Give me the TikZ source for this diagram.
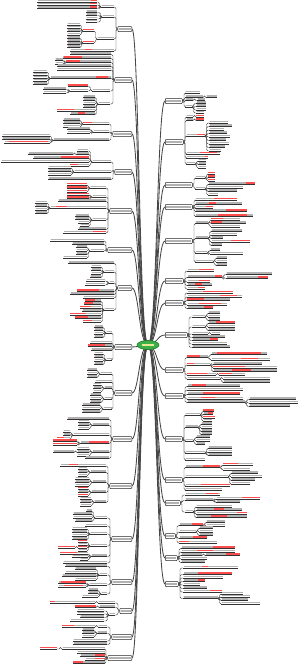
\documentclass[tikz,border=0pt]{standalone}
\usetikzlibrary{calc,shapes.geometric}
\pgfdeclarelayer{bg}
\pgfdeclarelayer{paper}
\pgfsetlayers{paper,bg,main}
\definecolor{cfill}{RGB}{60,175,70}
\definecolor{cdraw}{RGB}{30,120,40}
\definecolor{ctxt}{RGB}{235,230,150}
\tikzset{
 cn/.style={draw=black!72, line width=0.45pt, rounded corners=1.5pt},
 mainln/.style={draw=black!72, line width=0.85pt},
 lf/.style={inner sep=0pt, outer sep=0pt, minimum height=2.5pt},
 tb/.style={fill=black!30},
 rt/.style={fill=red!70},
 ul/.style={draw=black!80, line width=0.4pt},
 topbox/.style={draw=black!85, fill=white, line width=0.5pt, rounded corners=0.8pt, inner sep=0pt, minimum height=5pt},
}
\newcommand\LItem[7]{%
 \node[lf, anchor=south east, minimum width={(#4-#5)*1pt}] (#1) at (#4,#3) {};
 \coordinate (#1-o) at (#1.south west);
 \fill[tb] ([shift={(0.5pt,0.9pt)}]#1.south west) rectangle ([shift={(-0.5pt,0pt)}]#1.north east);
 \fill[rt] ($(#1.south west)!#6!(#1.south east)+(0,-0.9)$) rectangle ($(#1.north west)!#7!(#1.north east)$);
 \draw[ul] (#1.south west) -- (#1.south east);
 \draw[cn] (#2-o) -- ++(-1.5,0) |- (#1.south east);
}
\newcommand\RItem[7]{%
 \node[lf, anchor=south west, minimum width={(#5-#4)*1pt}] (#1) at (#4,#3) {};
 \coordinate (#1-o) at (#1.south east);
 \fill[tb] ([shift={(0.5pt,0.9pt)}]#1.south west) rectangle ([shift={(-0.5pt,0pt)}]#1.north east);
 \fill[rt] ($(#1.south west)!#6!(#1.south east)+(0,-0.9)$) rectangle ($(#1.north west)!#7!(#1.north east)$);
 \draw[ul] (#1.south west) -- (#1.south east);
 \draw[cn] (#2-o) -- ++(1.5,0) |- (#1.south west);
}
\newcommand\LBox[3]{%
 \node[topbox, anchor=east, minimum width={(132-#3)*1pt}] (#1) at (132,#2) {};
 \coordinate (#1-o) at (#1.west);
 \fill[tb] ([shift={(1.3pt,-1.5pt)}]#1.north west) rectangle ([shift={(-1.3pt,1.5pt)}]#1.south east);
 \begin{pgfonlayer}{bg}\draw[mainln] (C.center) .. controls (139,345) and (139,#2) .. (#1.east);\end{pgfonlayer}
}
\newcommand\RBox[3]{%
 \node[topbox, anchor=west, minimum width={(#3-165)*1pt}] (#1) at (165,#2) {};
 \coordinate (#1-o) at (#1.east);
 \fill[tb] ([shift={(1.3pt,-1.5pt)}]#1.north west) rectangle ([shift={(-1.3pt,1.5pt)}]#1.south east);
 \begin{pgfonlayer}{bg}\draw[mainln] (C.center) .. controls (157,345) and (157,#2) .. (#1.west);\end{pgfonlayer}
}
\begin{document}
\begin{tikzpicture}[x=1pt,y=-1pt]
\begin{pgfonlayer}{paper}\fill[white] (0,0) rectangle (300,665);\end{pgfonlayer}
\useasboundingbox (0,0) rectangle (300,665);
\node[ellipse, fill=cfill, draw=cdraw, line width=0.6pt, minimum width=22pt, minimum height=9pt, inner sep=0pt] (C) at (148,345) {};
\fill[ctxt] ([shift={(-6pt,-0.9pt)}]C.center) rectangle ([shift={(6pt,0.9pt)}]C.center);
% first-level boxes
\foreach \iN/\iY/\iX in {L1/29/118,L2/80/115,L3/134/113,L4/172/115,L5/211/110,L6/250/108,L7/288/118,L8/347/115,L9/393/115,L10/439/113,L11/486/110,L12/539/112,L13/582/112,L14/611/120,L15/637/112,L16/658/108}
 {\LBox{\iN}{\iY}{\iX}}
\foreach \iN/\iY/\iX in {R1/101/182,R2/142/183,R3/185/192,R4/207/192,R5/241/192,R6/281/183,R7/303/183,R8/335/187,R9/370/183,R10/396/183,R11/439/182,R12/480/182,R13/503/180,R14/536/175,R15/558/177,R16/584/178}
 {\RBox{\iN}{\iY}{\iX}}
% left items
\foreach \iN/\iP/\iY/\iA/\iB/\iR/\iS in {
L1a/L1/7/114/101/0/0,
L1a1/L1a/2/97/37/.9/1,
L1a2/L1a/5/97/37/.88/1,
L1a3/L1a/8.5/97/37/.88/1,
L1b/L1/17/114/102/0/0,
L1b1/L1b/12.5/97/86/0/0,
L1b2/L1b/15.5/97/86/0/0,
L1b3/L1b/19/97/86/0/0,
L1b4/L1b/22/97/86/0/0,
L1c/L1/39/114/97/0/0,
L1c1/L1c/31/94/83/0/1,
L1c2/L1c/43/94/83/0/1,
L1c11/L1c1/25/80/67/0/0,
L1c12/L1c1/28/80/67/0/0,
L1c13/L1c1/31.5/80/67/0/0,
L1c14/L1c1/35/80/67/0/0,
L1c21/L1c2/38.5/80/67/0/0,
L1c22/L1c2/41.5/80/67/0/0,
L1c23/L1c2/44.5/80/67/0/0,
L1c24/L1c2/47.5/80/67/0/0,
L1d/L1/51/114/70/.35/.5,
L2a/L2/54.5/111/70/0/0,
L2b/L2/58.5/111/62/.05/.4,
L2c/L2/62.5/111/66/0/.3,
L2c1/L2c/60.5/63/55/0/0,
L2c2/L2c/64/63/55/0/0,
L2d/L2/66.5/111/57/0/0,
L2e/L2/70/111/57/0/0,
L2f/L2/78.5/111/50/.75/.95,
L2f1/L2f/72/47/33/0/0,
L2f2/L2f/75/47/33/0/0,
L2f3/L2f/78/47/33/0/0,
L2f4/L2f/81/47/33/0/0,
L2f5/L2f/84.5/47/33/0/0,
L2g/L2/91/110/92/0/0,
L2g1/L2g/86.5/88/68/0/1,
L2g2/L2g/91/88/70/0/0,
L2g21/L2g2/89.5/66/43/0/0,
L2g22/L2g2/93/66/43/0/0,
L2h/L2/104/110/98/0/0,
L2h1/L2h/97.5/95/83/0/0,
L2h2/L2h/100.5/95/83/0/0,
L2h3/L2h/104/95/83/0/0,
L2h4/L2h/107.5/95/83/0/0,
L2h5/L2h/111/95/57/0/.45,
L2h6/L2h/114.5/95/70/.3/.6,
L3a/L3/124/109/83/0/.35,
L3a1/L3a/120.5/80/63/0/0,
L3a2/L3a/123.5/80/63/0/0,
L3a3/L3a/127/80/63/0/0,
L3b/L3/132/109/93/0/0,
L3b1/L3b/129.5/90/67/0/0,
L3b2/L3b/133/90/67/0/0,
L3c/L3/140.5/109/53/0/0,
L3c1/L3c/136/50/2/0/0,
L3c2/L3c/139.5/50/2/0/0,
L3c3/L3c/143/50/4/.1/.95,
L4a/L4/162/111/92/0/0,
L4a1/L4a/151/88/77/0/0,
L4a2/L4a/154.5/89/76/0/0,
L4a21/L4a2/154.5/73/28/0/0,
L4a3/L4a/158.5/89/33/.5/1,
L4a4/L4a/162/89/1/0/0,
L4a5/L4a/166/89/70/0/.4,
L4b/L4/172/111/74/0/0,
L4b1/L4b/168/71/48/0/0,
L4b2/L4b/171.5/71/48/0/0,
L4b3/L4b/175/71/48/0/0,
L4c/L4/179.5/111/48/0/0,
L5a/L5/188/106/90/0/0,
L5a1/L5a/185/87/67/0/1,
L5a2/L5a/188.5/87/67/0/1,
L5a3/L5a/192/87/67/0/1,
L5b/L5/197/106/92/0/0,
L5b1/L5b/195/89/67/0/1,
L5b2/L5b/198.5/89/67/0/1,
L5c/L5/201.5/106/58/0/0,
L5d/L5/208/106/50/.1/.3,
L5d1/L5d/203/47/35/0/0,
L5d2/L5d/206.5/47/35/0/0,
L5d3/L5d/210/47/35/0/0,
L5d4/L5d/213.5/47/35/0/0,
L5e/L5/220/106/92/0/0,
L5e1/L5e/216.5/89/75/0/0,
L5e2/L5e/219.5/89/75/0/0,
L5e3/L5e/223/89/78/0/0,
L5e4/L5e/226/89/80/0/0,
L5f/L5/229.5/106/78/0/0,
L5g/L5/233/106/63/.7/1,
L6a/L6/241/104/50/0/0,
L6b/L6/244.5/104/72/0/0,
L6c/L6/251/104/90/0/0,
L6c1/L6c/247.5/87/76/0/0,
L6c2/L6c/251/87/76/0/0,
L6c3/L6c/254.5/87/76/0/0,
L6c4/L6c/258/87/63/0/0,
L7a/L7/263.5/114/68/0/0,
L7b/L7/272/114/104/0/0,
L7b1/L7b/267/101/91/0/0,
L7b2/L7b/270.5/101/91/0/0,
L7b3/L7b/274/101/91/0/0,
L7b4/L7b/277.5/101/90/0/0,
L7c/L7/283/114/109/0/0,
L7c1/L7c/281/105/86/0/0,
L7c2/L7c/285/105/85/0/0,
L7d/L7/291.5/114/77/0/.6,
L7e/L7/294.5/114/70/0/0,
L7f/L7/298/114/83/0/0,
L7g/L7/310/114/104/0/0,
L7g1/L7g/301.5/101/85/0/.6,
L7g2/L7g/304.5/101/84/0/.5,
L7g3/L7g/308/101/80/0/.5,
L7g4/L7g/311.5/101/82/0/0,
L7g5/L7g/315/101/70/0/.5,
L7g6/L7g/318.5/101/75/0/.5,
L7g7/L7g/322/101/83/0/.5,
L8a/L8/333/112/106/0/0,
L8a1/L8a/327.5/103/94/0/0,
L8a2/L8a/330.5/103/94/0/0,
L8a3/L8a/334/103/94/0/0,
L8a4/L8a/337.5/103/94/0/0,
L8b/L8/343/112/90/0/0,
L8c/L8/346.5/112/88/0/.7,
L8d/L8/350.5/112/91/0/0,
L8e/L8/360/112/106/0/0,
L8e1/L8e/354/103/94/0/0,
L8e2/L8e/357.5/103/94/0/0,
L8e3/L8e/361/103/94/0/0,
L8e4/L8e/364.5/103/94/0/0,
L9a/L9/374/112/100/0/0,
L9a1/L9a/370.5/97/87/0/0,
L9a2/L9a/374/97/87/0/0,
L9a3/L9a/377.5/97/87/0/0,
L9b/L9/382/112/95/0/0,
L9c/L9/388.5/112/104/0/0,
L9c1/L9c/385/101/93/0/0,
L9c2/L9c/388.5/101/93/0/0,
L9c3/L9c/392/101/93/0/0,
L9d/L9/399/112/104/0/0,
L9d1/L9d/395.5/101/90/0/0,
L9d2/L9d/399/101/90/0/0,
L9d3/L9d/402.5/101/90/0/0,
L9e/L9/409/112/103/0/0,
L9e1/L9e/405.5/100/82/0/0,
L9e2/L9e/409/100/82/0/0,
L9e3/L9e/412.5/100/82/0/0,
L10a/L10/419.5/109/67/0/0,
L10b/L10/425.5/109/92/0/0,
L10b1/L10b/422/89/78/0/0,
L10b2/L10b/425.5/89/78/0/0,
L10b3/L10b/429/89/78/0/0,
L10c/L10/435/109/73/0/0,
L10c1/L10c/432/70/63/0/0,
L10c2/L10c/435.5/70/63/0/0,
L10c3/L10c/439/70/57/0/.5,
L10d/L10/443.5/109/80/.3/1,
L10d1/L10d/441.5/77/53/0/1,
L10d2/L10d/445/77/53/0/1,
L10e/L10/452.5/109/92/0/0,
L10e1/L10e/449/89/77/0/0,
L10e2/L10e/452.5/89/77/0/0,
L10e3/L10e/456/89/77/0/0,
L10e21/L10e2/452.5/74/53/0/0,
L10f/L10/458.5/109/85/0/0,
L11a/L11/466/106/60/.2/.4,
L11b/L11/472.5/106/90/0/0,
L11b1/L11b/469/87/78/0/0,
L11b2/L11b/472.5/87/78/0/0,
L11b3/L11b/476/87/78/0/0,
L11c/L11/482.5/106/92/0/0,
L11c1/L11c/479/89/75/0/0,
L11c2/L11c/482.5/89/75/0/0,
L11c3/L11c/486/89/75/0/0,
L11d/L11/492.5/106/91/0/0,
L11d1/L11d/489/88/78/0/1,
L11d2/L11d/492.5/88/78/0/0,
L11d3/L11d/496/88/78/0/1,
L11e/L11/502.5/106/94/0/0,
L11e1/L11e/499/91/80/0/0,
L11e2/L11e/502.5/91/80/0/0,
L11e3/L11e/506/91/80/0/0,
L12a/L12/518/107/95/0/0,
L12a1/L12a/511.5/92/86/0/0,
L12a2/L12a/514.5/92/73/0/0,
L12a3/L12a/518/92/73/0/0,
L12a4/L12a/521.5/92/75/0/0,
L12b/L12/526/107/85/0/0,
L12c/L12/534/107/90/0/0,
L12c1/L12c/529/87/72/0/0,
L12c2/L12c/532.5/87/72/0/0,
L12c3/L12c/536/87/72/0/0,
L12c4/L12c/539.5/87/72/0/0,
L12d/L12/546/107/90/0/0,
L12d1/L12d/542/87/78/0/1,
L12d2/L12d/545/87/78/0/0,
L12d3/L12d/548/87/78/0/1,
L12d4/L12d/551/87/78/0/0,
L12d31/L12d3/548/75/58/0/1,
L12e/L12/556.5/107/91/0/0,
L12e1/L12e/554/88/60/0/.6,
L12e2/L12e/557/88/72/0/0,
L12e3/L12e/560/88/80/0/0,
L12f/L12/563/107/63/0/0,
L13a/L13/566.5/107/65/0/0,
L13b/L13/575/107/99/0/0,
L13b1/L13b/569.5/96/75/0/0,
L13b2/L13b/573/96/65/0/0,
L13b3/L13b/576.5/96/62/0/0,
L13b4/L13b/580/96/75/0/0,
L13c/L13/585/107/89/0/0,
L13c1/L13c/583.5/86/58/.1/1,
L13c2/L13c/587/86/58/.2/.9,
L13d/L13/594/107/101/0/0,
L13d1/L13d/590.5/98/88/0/0,
L13d2/L13d/593.5/98/88/0/0,
L13d3/L13d/597/98/82/0/0,
L14a/L14/603/115/98/0/0,
L14a1/L14a/603/95/50/0/.12,
L14b/L14/607.5/115/99/0/0,
L14b1/L14b/607.5/96/75/0/1,
L14c/L14/615/115/109/0/0,
L14c1/L14c/611/104/77/0/0,
L14c2/L14c/614/104/77/0/0,
L14c3/L14c/617.5/104/80/0/0,
L14c4/L14c/621/104/70/0/0,
L15a/L15/627/107/98/0/0,
L15a1/L15a/627/95/62/0/.35,
L15b/L15/633.5/107/97/0/0,
L15b1/L15b/630.5/94/82/0/0,
L15b2/L15b/633.5/94/82/0/0,
L15b3/L15b/637/94/82/0/0,
L15c/L15/641/107/73/0/0,
L15d/L15/644.5/107/73/0/0,
L16a/L16/649/105/62/0/0,
L16a1/L16a/649/57/40/0/1,
L16b/L16/653/105/77/0/0,
L16c/L16/656.5/105/80/.6/1,
L16d/L16/660/105/85/.5/1,
L16e/L16/663.5/105/73/0/.3}
 {\LItem{\iN}{\iP}{\iY}{\iA}{\iB}{\iR}{\iS}}
% right items
\foreach \iN/\iP/\iY/\iA/\iB/\iR/\iS in {
R1a/R1/93/185/200/0/0,
R1b/R1/97.5/185/203/0/0,
R1b1/R1b/97.5/206/217/0/0,
R1c/R1/100.5/185/193/0/0,
R1c1/R1c/100.5/197/205/0/0,
R1d/R1/107/185/192/0/0,
R1d1/R1d/103.5/196/206/0/0,
R1d2/R1d/106.5/196/206/0/0,
R1d3/R1d/110/196/206/0/0,
R1d4/R1d/113/196/204/0/0,
R2a/R2/117/186/193/0/0,
R2a1/R2a/117/196/204/0/1,
R2b/R2/120.5/186/193/0/0,
R2b1/R2b/120.5/196/204/0/1,
R2c/R2/136/186/205/.6/1,
R2c1/R2c/123/209/228/0/0,
R2c2/R2c/126.5/209/232/0/0,
R2c3/R2c/130/209/224/0/0,
R2c4/R2c/133.5/209/227/0/0,
R2c5/R2c/137/209/230/0/0,
R2c6/R2c/140.5/209/226/0/0,
R2c7/R2c/144/209/229/0/0,
R2c8/R2c/147.5/209/225/0/0,
R2c9/R2c/151/209/221/0/0,
R2d/R2/154/186/220/.4/.9,
R2e/R2/158/186/208/.85/1,
R2f/R2/164/186/195/0/0,
R2f1/R2f/161/198/206/0/0,
R2f2/R2f/164.5/198/206/0/0,
R2f3/R2f/168/198/206/0/0,
R3a/R3/178/195/205/0/0,
R3a1/R3a/174/208/215/0/1,
R3a2/R3a/177.5/208/215/0/1,
R3a3/R3a/181/208/215/0/1,
R3b/R3/189/195/205/0/0,
R3b1/R3b/184.5/208/255/.8/1,
R3b2/R3b/188/208/243/0/0,
R3b3/R3b/191.5/208/237/0/0,
R3b4/R3b/195/208/218/0/0,
R4a/R4/200/195/237/.45/1,
R4b/R4/204.5/195/242/.3/.45,
R4c/R4/208/195/213/.6/1,
R4d/R4/211.5/195/247/.6/1,
R4e/R4/216.5/195/253/.4/.9,
R5a/R5/223.5/195/208/0/0,
R5a1/R5a/220/211/240/0/.4,
R5a2/R5a/223.5/211/246/0/.3,
R5a3/R5a/227/211/240/0/0,
R5b/R5/238.5/195/208/0/0,
R5b1/R5b/231.5/211/242/0/0,
R5b2/R5b/235/211/237/0/0,
R5b3/R5b/238.5/211/223/0/0,
R5b4/R5b/242/211/250/.5/1,
R5b5/R5b/245.5/211/222/0/0,
R5c/R5/253/195/207/0/0,
R5c1/R5c/250.5/210/220/0/0,
R5c2/R5c/254/210/243/0/0,
R5d/R5/262/195/213/0/0,
R5d1/R5d/258.5/216/227/0/0,
R5d2/R5d/262/216/227/0/0,
R5d3/R5d/265.5/216/227/0/0,
R6a/R6/271/187/214/.45/1,
R6b/R6/277.5/187/222/.8/1,
R6b1/R6b/274.5/226/272/0/0,
R6b2/R6b/278.5/226/268/.75/1,
R6c/R6/282/187/210/.5/1,
R6d/R6/285.5/187/212/.3/.6,
R6e/R6/289/187/205/.6/1,
R7a/R7/293/187/233/.35/1,
R7b/R7/297/187/242/.6/.9,
R7c/R7/300.5/187/230/0/.4,
R7d/R7/305/187/227/.3/.85,
R7e/R7/308.5/187/213/.65/1,
R8a/R8/317/192/205/0/0,
R8a1/R8a/313.5/208/220/0/0,
R8a2/R8a/317/208/220/0/0,
R8a3/R8a/320.5/208/220/0/0,
R8b/R8/327/192/205/0/0,
R8b1/R8b/323.5/208/235/.3/1,
R8b2/R8b/327/208/235/0/0,
R8b3/R8b/330.5/208/235/0/0,
R8c/R8/334/192/208/0/0,
R8c1/R8c/334/211/220/0/0,
R8d/R8/337.5/192/225/0/0,
R8e/R8/340.5/192/218/.7/1,
R8f/R8/344/192/227/0/0,
R8g/R8/347.5/192/230/0/0,
R9a/R9/357.5/187/208/0/.6,
R9a1/R9a/354.5/211/267/.1/.9,
R9a2/R9a/360/211/270/.5/.8,
R9b/R9/365/187/210/0/.3,
R9b1/R9b/364.5/213/262/0/0,
R9b2/R9b/368/213/277/0/.5,
R9b3/R9b/371.5/213/277/.3/.6,
R9c/R9/375/187/216/0/.7,
R9c1/R9c/375/219/245/0/.5,
R9d/R9/379/187/220/0/0,
R9d1/R9d/379/223/270/0/0,
R9d2/R9d/382.5/223/270/0/0,
R10a/R10/386.5/187/240/.1/.35,
R10b/R10/390/187/243/0/0,
R10c/R10/394.5/187/240/.3/1,
R10d/R10/399/187/243/.25/.5,
R10e/R10/402.5/187/245/0/0,
R10e1/R10e/399.5/249/296/0/0,
R10e2/R10e/403/249/298/0/0,
R10e3/R10e/406.5/249/290/0/0,
R11a/R11/415/185/200/0/0,
R11a1/R11a/411.5/203/214/0/1,
R11a2/R11a/414.5/203/213/.5/1,
R11a3/R11a/418/203/215/0/1,
R11a4/R11a/421/203/212/0/0,
R11b/R11/427.5/185/198/0/0,
R11b1/R11b/424.5/201/212/0/0,
R11b2/R11b/428/201/212/0/0,
R11b3/R11b/431.5/201/212/0/0,
R11b4/R11b/434.5/201/212/0/0,
R11c/R11/441/185/193/0/0,
R11c1/R11c/437.5/196/210/0/0,
R11c2/R11c/441/196/210/0/0,
R11c3/R11c/444.5/196/205/0/0,
R11d/R11/453/185/205/0/0,
R11d1/R11d/448.5/208/232/0/0,
R11d2/R11d/452/208/232/0/0,
R11d3/R11d/455.5/208/232/0/0,
R11e/R11/460/185/205/0/0,
R12a/R12/467.5/185/220/.5/1,
R12a1/R12a/465/223/253/0/.5,
R12a2/R12a/470/223/250/0/0,
R12b/R12/477/185/228/0/0,
R12b1/R12b/473.5/231/258/0/0,
R12b2/R12b/477/231/262/0/0,
R12b3/R12b/480.5/231/255/0/0,
R12b4/R12b/484/231/250/0/0,
R12c/R12/486/185/230/.35/1,
R12d/R12/490/185/222/0/0,
R13a/R13/495/185/220/.6/.95,
R13b/R13/500.5/185/213/0/0,
R13b1/R13b/499/216/260/.6/1,
R13b2/R13b/502.5/216/240/0/0,
R13c/R13/512/185/193/0/0,
R13c1/R13c/507/196/232/0/0,
R13c2/R13c/510.5/196/242/.4/.6,
R13c3/R13c/514/196/247/.8/1,
R13c4/R13c/517.5/196/247/.3/.6,
R14a/R14/525.5/179/203/.55/1,
R14a1/R14a/522.5/206/225/0/0,
R14a2/R14a/526/206/225/0/0,
R14b/R14/532/179/196/0/0,
R14b1/R14b/528.5/199/213/0/0,
R14b2/R14b/532/199/213/0/0,
R14b3/R14b/535.5/199/213/0/0,
R14c/R14/538.5/179/207/.5/1,
R14d/R14/543/179/217/0/.25,
R15a/R15/548.5/181/235/.6/1,
R15b/R15/552/181/235/.3/.6,
R15c/R15/555.5/181/202/0/0,
R15c1/R15c/555.5/205/240/.6/1,
R15d/R15/559/181/207/0/0,
R15e/R15/562.5/181/205/0/0,
R16a/R16/568/183/238/.35/.45,
R16b/R16/574.5/183/232/.3/1,
R16c/R16/578/183/223/0/0,
R16d/R16/581.5/183/205/.7/1,
R16e/R16/585/183/200/0/0,
R16f/R16/588.5/183/207/0/0,
R16g/R16/592/183/222/.7/1,
R16h/R16/598.5/183/218/0/0,
R16h1/R16h/594/221/243/0/0,
R16h2/R16h/597/221/250/0/0,
R16h3/R16h/600.5/221/248/0/0,
R16h4/R16h/604/221/260/0/0}
 {\RItem{\iN}{\iP}{\iY}{\iA}{\iB}{\iR}{\iS}}
\end{tikzpicture}
\end{document}
